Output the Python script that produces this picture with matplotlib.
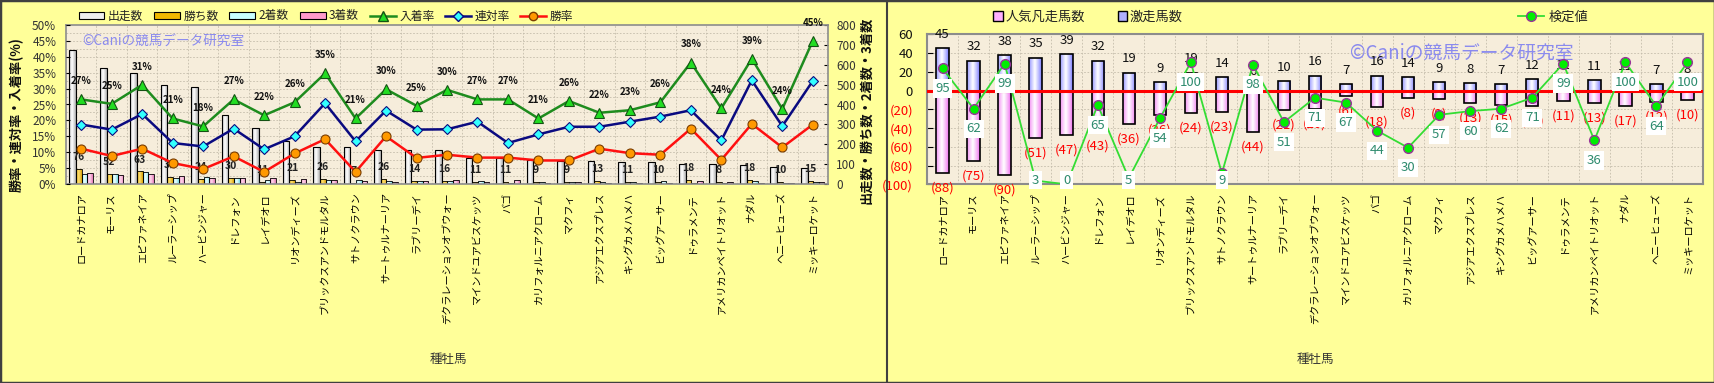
import numpy as np
import matplotlib
matplotlib.use('Agg')
import matplotlib.pyplot as plt
import matplotlib.colors as mcolors
from matplotlib.patches import Rectangle, Patch
from matplotlib.lines import Line2D
from matplotlib.ticker import MultipleLocator

plt.rcParams['font.family'] = ['Noto Sans CJK JP', 'DejaVu Sans']

# ---------------- data ----------------
sires = ['ロードカナロア', 'モーリス', 'エピファネイア', 'ルーラーシップ', 'ハービンジャー',
         'ドレフォン', 'レイデオロ', 'リオンディーズ', 'ブリックスアンドモルタル', 'サトノクラウン',
         'サートゥルナーリア', 'ラブリーデイ', 'デクラレーションオブウォー', 'マインドユアビスケッツ', 'バゴ',
         'カリフォルニアクローム', 'マクフィ', 'アジアエクスプレス', 'キングカメハメハ', 'ビッグアーサー',
         'ドゥラメンテ', 'アメリカンペイトリオット', 'ナダル', 'ヘニーヒューズ', 'ミッキーロケット']

runs = [672, 584, 557, 497, 487, 346, 283, 214, 187, 187, 172, 170, 169, 132, 132,
        122, 115, 115, 112, 109, 102, 99, 94, 86, 80]
wins = [76, 52, 63, 33, 24, 30, 11, 21, 26, 7, 26, 14, 16, 11, 11, 9, 9, 13, 11, 10, 18, 8, 18, 10, 15]
seconds = [50, 48, 60, 31, 33, 30, 20, 11, 21, 18, 14, 15, 13, 15, 6, 10, 12, 8, 11, 13, 6, 6, 13, 6, 11]
thirds = [53, 47, 51, 38, 31, 32, 30, 23, 18, 13, 11, 13, 21, 9, 18, 6, 9, 5, 4, 5, 15, 10, 6, 4, 10]

place_rate = [26.6, 25.2, 31.2, 20.6, 18.1, 26.6, 21.6, 25.7, 34.8, 20.6, 29.8, 24.6, 29.6,
              26.6, 26.6, 20.6, 26.1, 22.4, 23.2, 25.7, 38.2, 23.8, 39.4, 23.6, 45.0]
rentai_rate = [18.7, 17.1, 22.0, 12.9, 11.8, 17.4, 10.9, 15.0, 25.4, 13.4, 23.1, 17.1, 17.2,
               19.6, 12.9, 15.6, 18.0, 18.0, 19.6, 21.2, 23.2, 13.7, 32.6, 18.2, 32.4]
win_rate = [11.1, 8.8, 11.1, 6.6, 4.7, 8.7, 3.8, 9.6, 14.1, 3.8, 15.0, 8.2, 9.2,
            8.3, 8.3, 7.4, 7.4, 11.1, 9.7, 9.2, 17.4, 7.6, 18.9, 11.5, 18.7]

gekisou = [45, 32, 38, 35, 39, 32, 19, 9, 19, 14, 6, 10, 16, 7, 16, 14, 9, 8, 7, 12, 12, 11, 11, 7, 8]
bonsou = [88, 75, 90, 51, 47, 43, 36, 26, 24, 23, 44, 21, 20, 6, 18, 8, 9, 13, 15, 17, 11, 13, 17, 12, 10]
kentei = [95, 62, 99, 3, 0, 65, 5, 54, 100, 9, 98, 51, 71, 67, 44, 30, 57, 60, 62, 71, 99, 36, 100, 64, 100]

rate_ticks = list(range(0, 51, 5))
count_ticks = list(range(0, 801, 100))
right_ticks = list(range(-100, 61, 20))

# ---------------- figure ----------------
W, H = 1715, 383
fig = plt.figure(figsize=(W / 100, H / 100), dpi=100)
fig.patch.set_facecolor('#ffff99')


def fx(px):
    return px / W


def fy(py):
    return 1 - py / H


fig.add_artist(Rectangle((0, 0), 1, 1, transform=fig.transFigure, fill=False, ec='#404040', lw=2.5))
fig.add_artist(Line2D([fx(887), fx(887)], [0, 1], transform=fig.transFigure, color='#404040', lw=1.5))

PLOT_BG = '#f6eddb'
GRID_C = '#c4bcab'
SPINE_C = '#8c8c8c'


def shade(ax, bars, edge_col, mid_col='white'):
    c0 = np.array(mcolors.to_rgb(edge_col))
    c1 = np.array(mcolors.to_rgb(mid_col))
    t = np.linspace(0, 1, 48)
    w = np.clip(1 - np.abs(t - 0.45) / 0.55, 0, 1) ** 0.8
    img = (c0[None, :] * (1 - w[:, None]) + c1[None, :] * w[:, None])[None, :, :]
    for b in bars:
        x0, y0 = b.get_x(), b.get_y()
        bw, bh = b.get_width(), b.get_height()
        im = ax.imshow(img, extent=(x0, x0 + bw, min(y0, y0 + bh), max(y0, y0 + bh)),
                       aspect='auto', interpolation='bilinear', zorder=b.get_zorder() - 0.05)
        im.set_clip_path(b)
        b.set_facecolor('none')


x = np.arange(len(sires))

# ================= LEFT CHART =================
axL = fig.add_axes([fx(66), fy(184), fx(828) - fx(66), (184 - 25) / H])
axL.set_facecolor(PLOT_BG)
wW, wS, start = 0.22, 0.185, -0.39
xr = x + start + wW / 2
xw = x + start + wW + wS / 2
x2 = x + start + wW + wS * 1.5
x3 = x + start + wW + wS * 2.5
b_runs = axL.bar(xr, runs, wW, ec='black', lw=0.8, zorder=2)
b_wins = axL.bar(xw, wins, wS, ec='black', lw=0.6, zorder=2)
b_sec = axL.bar(x2, seconds, wS, ec='black', lw=0.6, zorder=2)
b_thr = axL.bar(x3, thirds, wS, ec='black', lw=0.6, zorder=2)
shade(axL, b_runs, '#a8a8a8', 'white')
shade(axL, b_wins, '#d49a00', '#ffe070')
shade(axL, b_sec, '#70d8e0', '#f0ffff')
shade(axL, b_thr, '#e070b0', '#ffd8ec')

for i, v in enumerate(wins):
    axL.annotate(str(v), (xw[i], v), xytext=(0, 8.6), textcoords='offset points',
                 ha='center', va='center', fontsize=7.5, fontweight='bold', color='#222222', zorder=3)

axL.set_xlim(-0.5, len(sires) - 0.5)
axL.set_ylim(0, 800)
axL.yaxis.set_minor_locator(MultipleLocator(40))
axL.set_xticks(x)
axL.set_xticks(x[:-1] + 0.5, minor=True)
axL.set_xticklabels(sires, rotation=90, fontsize=7.3, va='top', ha='center')
axL.tick_params(axis='x', which='both', length=0, pad=6)
axL.grid(which='minor', color=GRID_C, ls=(0, (2, 2)), lw=0.6)
axL.set_axisbelow(True)
for s in axL.spines.values():
    s.set_color(SPINE_C)
    s.set_linewidth(1.2)

axR = axL.twinx()
# counts on the right, rates on the left
axL.yaxis.tick_right()
axR.yaxis.tick_left()
axL.set_yticks(count_ticks)
axL.set_yticklabels([str(t) for t in count_ticks])
axL.tick_params(axis='y', which='major', direction='in', length=3, pad=6, labelsize=8.5, labelcolor='#333333')
axL.tick_params(axis='y', which='minor', length=0)

axR.set_ylim(0, 50)
axR.set_yticks(rate_ticks)
axR.set_yticklabels([f'{t}%' for t in rate_ticks])
axR.tick_params(axis='y', direction='in', length=3, pad=7, labelsize=8.5, labelcolor='#333333')
for s in axR.spines.values():
    s.set_visible(False)

axR.plot(x, place_rate, color='#1e8c1e', lw=1.8, marker='^', ms=7.5, mfc='#22dd22', mec='#145214', mew=0.8, zorder=4)
axR.plot(x, rentai_rate, color='#0a0a80', lw=1.8, marker='D', ms=5.2, mfc='#33ffff', mec='#0a0a80', mew=0.8, zorder=4)
axR.plot(x, win_rate, color='#ff1010', lw=1.8, marker='o', ms=6.5, mfc='#ff9900', mec='#7a3c00', mew=0.8, zorder=4)
for i, v in enumerate(place_rate):
    axR.annotate(f'{v:.0f}%', (x[i], v), xytext=(0, 13), textcoords='offset points',
                 ha='center', va='center', fontsize=7, fontweight='bold', color='#111111', zorder=5)

axL.text(fx(82), fy(41), '©Caniの競馬データ研究室', transform=fig.transFigure, fontsize=9.8,
         color='#8a8aee', ha='left', va='center', zorder=1.5)

left_handles = [Patch(fc='#eeeeee', ec='black', lw=0.8), Patch(fc='#f0b800', ec='black', lw=0.8),
                Patch(fc='#c8ffff', ec='black', lw=0.8), Patch(fc='#ff99cc', ec='black', lw=0.8),
                Line2D([], [], color='#1e8c1e', lw=1.8, marker='^', ms=7, mfc='#22dd22', mec='#145214'),
                Line2D([], [], color='#0a0a80', lw=1.8, marker='D', ms=5, mfc='#33ffff', mec='#0a0a80'),
                Line2D([], [], color='#ff1010', lw=1.8, marker='o', ms=6, mfc='#ff9900', mec='#7a3c00')]
left_labels = ['出走数', '勝ち数', '2着数', '3着数', '入着率', '連対率', '勝率']
fig.legend(left_handles, left_labels, loc='center', bbox_to_anchor=(fx(326), fy(16)), ncol=7,
           frameon=False, fontsize=8.5, handlelength=2.2, handleheight=0.55, handletextpad=0.3,
           columnspacing=0.9, labelcolor='#222222')

fig.text(fx(17), fy(115), '勝率・連対率・入着率(%)', rotation=90, fontsize=9.5, fontweight='bold',
         ha='center', va='center', color='#111111')
fig.text(fx(866), fy(110), '出走数・勝ち数・2着数・3着数', rotation=90, fontsize=9.5, fontweight='bold',
         ha='center', va='center', color='#111111')
fig.text(fx(448), fy(359), '種牡馬', fontsize=9, color='#333333', ha='center', va='center')

# ================= RIGHT CHART =================
axB = fig.add_axes([fx(927), fy(184.3), (1703 - 927) / W, (184.3 - 34.3) / H])
axB.set_facecolor(PLOT_BG)
neg = [-v for v in bonsou]
b_bon = axB.bar(x, neg, 0.4, ec='black', lw=1.2, zorder=2)
b_gek = axB.bar(x, gekisou, 0.4, ec='black', lw=1.2, zorder=2)
shade(axB, b_bon, '#ee66ee', 'white')
shade(axB, b_gek, '#7070ff', 'white')
axB.axhline(0, color='#ff0000', lw=2.2, zorder=3)
for i in range(len(sires)):
    axB.annotate(str(gekisou[i]), (x[i], gekisou[i]), xytext=(0, 10), textcoords='offset points',
                 ha='center', va='center', fontsize=9.5, color='#111111', zorder=3, annotation_clip=False)
    axB.annotate(f'({bonsou[i]})', (x[i], neg[i]), xytext=(0, -10.8), textcoords='offset points',
                 ha='center', va='center', fontsize=9.5, color='#ff0000', zorder=3, annotation_clip=False)

axB.set_xlim(-0.5, len(sires) - 0.5)
axB.set_ylim(-100, 60)
axB.set_xticks(x)
axB.set_xticks(x[:-1] + 0.5, minor=True)
axB.set_xticklabels(sires, rotation=90, fontsize=7.3, va='top', ha='center')
axB.tick_params(axis='x', which='both', length=0, pad=6)
axB.grid(which='major', axis='y', color=GRID_C, ls=(0, (2, 2)), lw=0.6)
axB.grid(which='minor', axis='x', color=GRID_C, ls=(0, (2, 2)), lw=0.6)
axB.set_axisbelow(True)
for s in axB.spines.values():
    s.set_color(SPINE_C)
    s.set_linewidth(1.5)

axB.text(fx(1350), fy(53), '©Caniの競馬データ研究室', transform=fig.transFigure, fontsize=13.5,
         color='#8a8aee', ha='left', va='center', zorder=1.5)

axK = axB.twinx()
axB.yaxis.tick_left()
axB.set_yticks(right_ticks)
axB.set_yticklabels([str(t) if t >= 0 else f'({-t})' for t in right_ticks])
for t, lab in zip(right_ticks, axB.get_yticklabels()):
    lab.set_color('#111111' if t >= 0 else '#ff0000')
axB.tick_params(axis='y', direction='in', length=4, pad=10, labelsize=9.5)

KMAX = 123
axK.set_ylim(0, KMAX)
axK.yaxis.set_visible(False)
for s in axK.spines.values():
    s.set_visible(False)
axK.plot(x, kentei, color='#33dd33', lw=1.3, marker='o', ms=7, mfc='#00ee00', mec='#993399', mew=1, zorder=4)
off = 20 * KMAX / 150.0
for i, v in enumerate(kentei):
    ly = max(v - off, 3.4)
    axK.text(x[i], ly, str(v), ha='center', va='center', fontsize=9.5, color='#2e8b6e', zorder=5,
             bbox=dict(boxstyle='square,pad=0.2', fc='white', ec='none'))

fig.legend([Patch(fc='#ffb0ff', ec='black', lw=1), Patch(fc='#b0b0ff', ec='black', lw=1)],
           ['人気凡走馬数', '激走馬数'], loc='center', bbox_to_anchor=(fx(1088), fy(17)), ncol=2,
           frameon=False, fontsize=9.5, handlelength=0.7, handleheight=0.7, handletextpad=0.2,
           columnspacing=2.5, labelcolor='#222222')
fig.legend([Line2D([], [], color='#33dd33', lw=1.3, marker='o', ms=7, mfc='#00ee00', mec='#993399')],
           ['検定値'], loc='center', bbox_to_anchor=(fx(1553), fy(17)), frameon=False, fontsize=9.5,
           handlelength=2.0, handletextpad=0.3, labelcolor='#222222')

fig.text(fx(1315), fy(359), '種牡馬', fontsize=9, color='#333333', ha='center', va='center')

fig.savefig('out.png', dpi=100, facecolor=fig.get_facecolor())
